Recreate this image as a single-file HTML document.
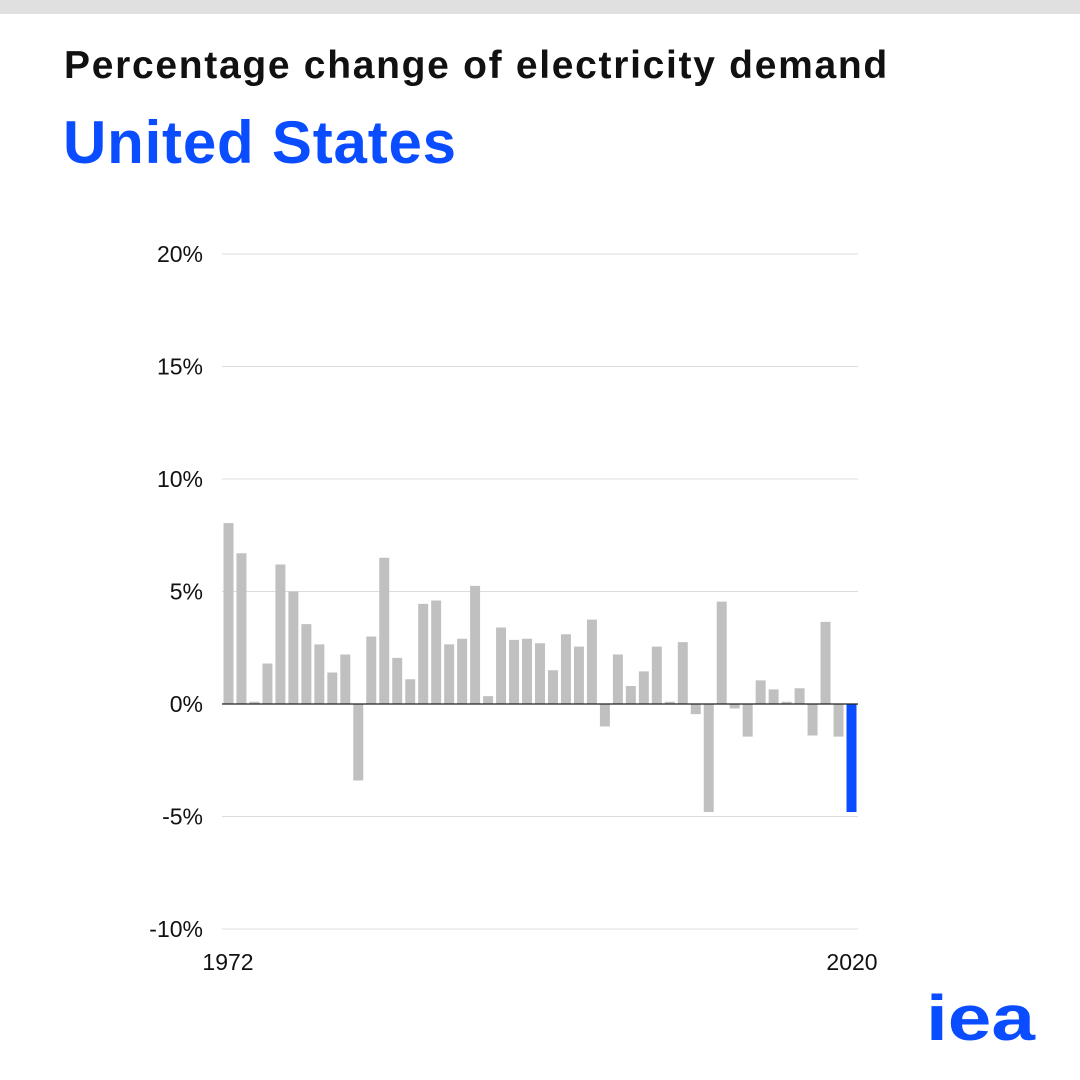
<!DOCTYPE html>
<html><head><meta charset="utf-8"><style>
body{margin:0;width:1080px;height:1080px;background:#fff;overflow:hidden;font-family:"Liberation Sans",sans-serif;position:relative}
.band{position:absolute;left:0;top:0;width:1080px;height:14px;background:#e0e0e0}
.t1{position:absolute;left:64px;top:44px;font-size:39px;font-weight:bold;color:#111;letter-spacing:1.7px;white-space:nowrap}
.t2{position:absolute;left:63px;top:108px;font-size:60px;font-weight:bold;color:#0a4cff;letter-spacing:0.8px;white-space:nowrap}
svg{position:absolute;left:0;top:0}
</style></head><body>
<div class="band"></div>
<div class="t1">Percentage change of electricity demand</div>
<div class="t2">United States</div>
<svg id="chart" width="1080" height="1080"></svg>
<script>
const years=[1972,1973,1974,1975,1976,1977,1978,1979,1980,1981,1982,1983,1984,1985,1986,1987,1988,1989,1990,1991,1992,1993,1994,1995,1996,1997,1998,1999,2000,2001,2002,2003,2004,2005,2006,2007,2008,2009,2010,2011,2012,2013,2014,2015,2016,2017,2018,2019,2020];
const values=[8.04,6.7,0.1,1.8,6.2,5.0,3.55,2.65,1.4,2.2,-3.4,3.0,6.5,2.05,1.1,4.45,4.6,2.65,2.9,5.25,0.35,3.4,2.85,2.9,2.7,1.5,3.1,2.55,3.75,-1.0,2.2,0.8,1.45,2.55,0.1,2.75,-0.45,-4.8,4.55,-0.2,-1.45,1.05,0.65,0.1,0.7,-1.4,3.65,-1.45,-4.8];
const ticks=[20,15,10,5,0,-5,-10];
const tickLabels=["20%","15%","10%","5%","0%","-5%","-10%"];
const xLabels=["1972","2020"];
const NS="http://www.w3.org/2000/svg";
const svg=document.getElementById('chart');
const y=v=>704-v*22.5;
const x0=222,x1=858,slot=(x1-x0)/years.length;
const xb=i=>x0+i*slot+1.5;
function mk(t,a){const e=document.createElementNS(NS,t);for(const k in a)e.setAttribute(k,a[k]);svg.appendChild(e);return e;}
ticks.forEach((t,i)=>{
  const g=mk('line',{x1:x0,x2:x1,y1:y(t),y2:y(t),stroke:'#dcdcdc','stroke-width':1});
  
  
  const l=mk('text',{x:203,y:y(t)+8,'text-anchor':'end','font-size':23,fill:'#111','font-family':'Liberation Sans, sans-serif'});
  l.textContent=tickLabels[i];
  
  
});
values.forEach((v,i)=>{
  const top=Math.min(y(v),y(0)),h=Math.abs(y(v)-y(0));
  const r=mk('rect',{x:xb(i),y:top,width:slot-3,height:h,fill:i===values.length-1?'#0a4cff':'#c0c0c0'});
  
  
});
const z=mk('line',{x1:x0,x2:x1,y1:y(0),y2:y(0),stroke:'#222','stroke-width':1.3});


[[0,228],[1,852]].forEach(([i,cx])=>{
  const t=mk('text',{x:cx,y:970,'text-anchor':'middle','font-size':23,fill:'#111','font-family':'Liberation Sans, sans-serif'});
  t.textContent=xLabels[i];
  
  
});
const logo=mk('text',{x:926,y:1040,'font-size':64,'font-weight':'bold',fill:'#0a4cff','font-family':'Liberation Sans, sans-serif',textLength:109,lengthAdjust:'spacingAndGlyphs'});
logo.textContent='iea';


</script>
</body></html>
